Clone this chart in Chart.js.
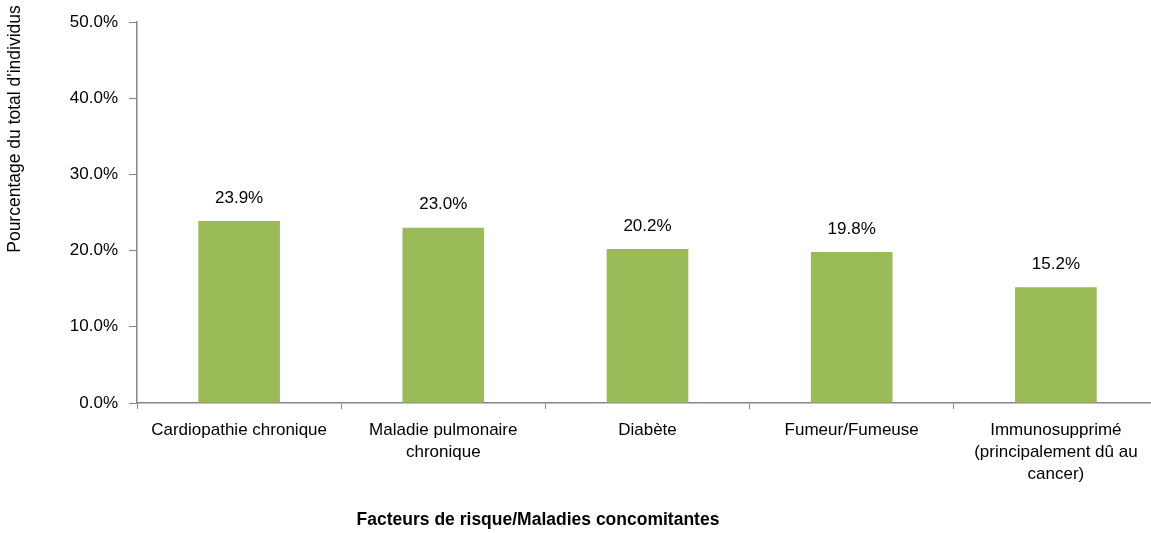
<!DOCTYPE html>
<html><head><meta charset="utf-8">
<script src="https://cdn.jsdelivr.net/npm/chart.js@4/dist/chart.umd.min.js"></script>
<style>
html,body{margin:0;padding:0;overflow:hidden;background:#fff;width:1151px;height:533px;}
#wrap{width:1158px;height:533px;position:relative;}
</style></head>
<body><div id="wrap"><canvas id="c"></canvas></div>
<script>
const categories = [
  ['Cardiopathie chronique'],
  ['Maladie pulmonaire','chronique'],
  ['Diabète'],
  ['Fumeur/Fumeuse'],
  ['Immunosupprimé','(principalement dû au','cancer)']
];
const values = [23.9, 23.0, 20.2, 19.8, 15.2];
const yTitle = "Pourcentage du total d'individus";
const xTitle = "Facteurs de risque/Maladies concomitantes";

const FONT = "'Liberation Sans Narrow','Arial Narrow','Liberation Sans',Arial,sans-serif";
const AXIS = '#868686';

const labelPlugin = {
  id:'labels',
  afterDraw(chart){
    const ctx = chart.ctx;
    ctx.save();
    ctx.fillStyle = '#000';
    ctx.font = '17px ' + FONT;
    ctx.textAlign = 'center';
    ctx.textBaseline = 'middle';
    const meta = chart.getDatasetMeta(0);
    meta.data.forEach((bar,i)=>{
      ctx.fillText(values[i].toFixed(1)+'%', bar.x, bar.y - 23);
    });
    ctx.font = 'bold 17.5px ' + FONT;
    ctx.fillText(xTitle, 538, 520);
    ctx.translate(15, 129);
    ctx.rotate(-Math.PI/2);
    ctx.font = '17.5px ' + FONT;
    ctx.fillText(yTitle, 0, 0);
    ctx.restore();
  }
};

new Chart(document.getElementById('c'), {
  type:'bar',
  data:{
    labels: categories,
    datasets:[{
      data: values,
      backgroundColor:'#9BBB59',
      borderWidth:0,
      categoryPercentage:1,
      barPercentage:0.4
    }]
  },
  options:{
    responsive:true,
    maintainAspectRatio:false,
    animation:false,
    layout:{padding:{top:22,left:0,right:0,bottom:0}},
    plugins:{legend:{display:false},tooltip:{enabled:false}},
    scales:{
      x:{
        offset:true,
        grid:{display:true,drawOnChartArea:false,drawTicks:true,tickLength:6,color:AXIS,offset:true},
        border:{color:AXIS,width:1.5},
        ticks:{color:'#000',font:{family:FONT,size:17,lineHeight:1.3},padding:10,maxRotation:0,autoSkip:false},
        afterFit(s){ s.height = 130; }
      },
      y:{
        min:0,max:50,
        grid:{display:true,drawOnChartArea:false,drawTicks:true,tickLength:8,color:AXIS},
        border:{color:AXIS,width:1.5},
        ticks:{stepSize:10,color:'#000',font:{family:FONT,size:17},padding:11,
          callback:v=>v.toFixed(1)+'%'},
        afterFit(s){ s.width = 137; }
      }
    }
  },
  plugins:[labelPlugin]
});
</script></body></html>
